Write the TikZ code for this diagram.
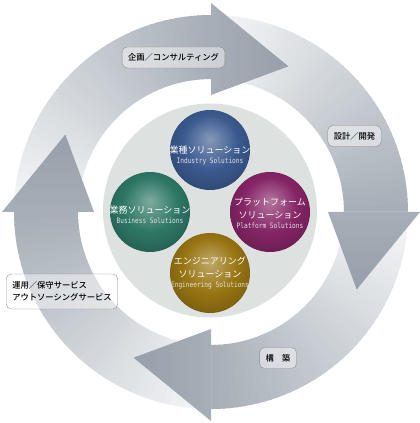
\documentclass[tikz,border=0pt]{standalone}
\usepackage{fontspec}
\newfontfamily\jp{Noto Sans CJK JP}
\newfontfamily\jpm{Noto Sans CJK JP Medium}
\newfontfamily\en[FakeStretch=0.82]{DejaVu Sans Mono}
\definecolor{arrowlight}{HTML}{F6F7F8}
\definecolor{arrowdark}{HTML}{A6AEB7}
\definecolor{headtip}{HTML}{97A0AA}
\definecolor{disc}{HTML}{DDE1E0}
\definecolor{industry}{HTML}{3B5A8F}
\definecolor{business}{HTML}{2E7766}
\definecolor{platform}{HTML}{852566}
\definecolor{engineering}{HTML}{987512}
% sphere look, highlight a little above the middle
\newcommand\sphere[2]{\pgfdeclareradialshading{#1}{\pgfpoint{0bp}{7bp}}{color(0bp)=(#2!62!white); color(8bp)=(#2!80!white); color(17bp)=(#2); color(26bp)=(#2!86!black); color(33bp)=(#2!68!black); color(50bp)=(#2!68!black)}}
\sphere{industryball}{industry}
\sphere{businessball}{business}
\sphere{platformball}{platform}
\sphere{engineeringball}{engineering}
\newcommand\entext[1]{{\en\fontsize{7.5}{9}\selectfont\color{white!88!black}#1}}
\tikzset{
  ball/.style={circle, minimum size=80pt, inner sep=0pt, shading=#1},
  balltext/.style={text=white, align=center, inner sep=0pt, font=\jp\fontsize{9}{13}\selectfont},
  stage/.style={draw=gray!90, rounded corners=5pt, fill=white, fill opacity=0.45, text opacity=1,
    inner xsep=6pt, minimum height=21pt, font=\jpm\fontsize{8.3}{12.5}\selectfont}
}
\begin{document}
\begin{tikzpicture}[x=1pt,y=1pt]
\useasboundingbox (-211,-211) rectangle (209,212);
\fill[white] (-211,-211) rectangle (209,212);
% Ring of four arrows: bodies first
\foreach \a in {90,0,-90,180}
  \foreach \i in {0,...,44} {
    \pgfmathsetmacro\s{\a+90-2*\i}
    \pgfmathsetmacro\e{\a+88-2*\i-0.5}
    \pgfmathsetmacro\p{100*\i/44}
    \fill[arrowdark!\p!arrowlight] (\s:133) arc[start angle=\s, end angle=\e, radius=133]
      -- (\e:197) arc[start angle=\e, end angle=\s, radius=197] -- cycle;
  }
% Heads on top
\foreach \a in {90,0,-90,180} {
  \pgfmathsetmacro\r{\a-180}
  \pgfmathsetmacro\t{\a-28}
  \path[top color=headtip, bottom color=arrowdark, shading angle=\r]
    (\a:117) -- (\t:165) -- (\a:209) -- cycle;
}
% Stage labels
\node[stage] (plan) at (-37.5,154.5) {企画／コンサルティング};
\node[stage] (design) at (143.5,76) {設計／開発};
\node[stage] (build) at (67,-146) {構　築};
\node[stage, align=left, minimum height=35pt] (ops) at (-149,-79.5) {運用／保守サービス\\アウトソーシングサービス};
% Inner disc and solutions
\fill[disc] (-1,1.5) circle[radius=107];
\node[ball=industryball] (ind) at (-1,62) {};
\node[ball=businessball] (bus) at (-61,0) {};
\node[ball=platformball] (plat) at (59,0) {};
\node[ball=engineeringball] (eng) at (-1,-61) {};
\node[balltext, yshift=-5.5pt] (indtext) at (ind) {業種ソリューション\\[-3pt]\entext{Industry Solutions}};
\node[balltext, yshift=-2.5pt] (bustext) at (bus) {業務ソリューション\\[-3pt]\entext{Business Solutions}};
\node[balltext, yshift=-1pt] (plattext) at (plat) {プラットフォーム\\ソリューション\\[-3pt]\entext{Platform Solutions}};
\node[balltext] (engtext) at (eng) {エンジニアリング\\ソリューション\\[-3pt]\entext{Engineering Solutions}};
\end{tikzpicture}
\end{document}
